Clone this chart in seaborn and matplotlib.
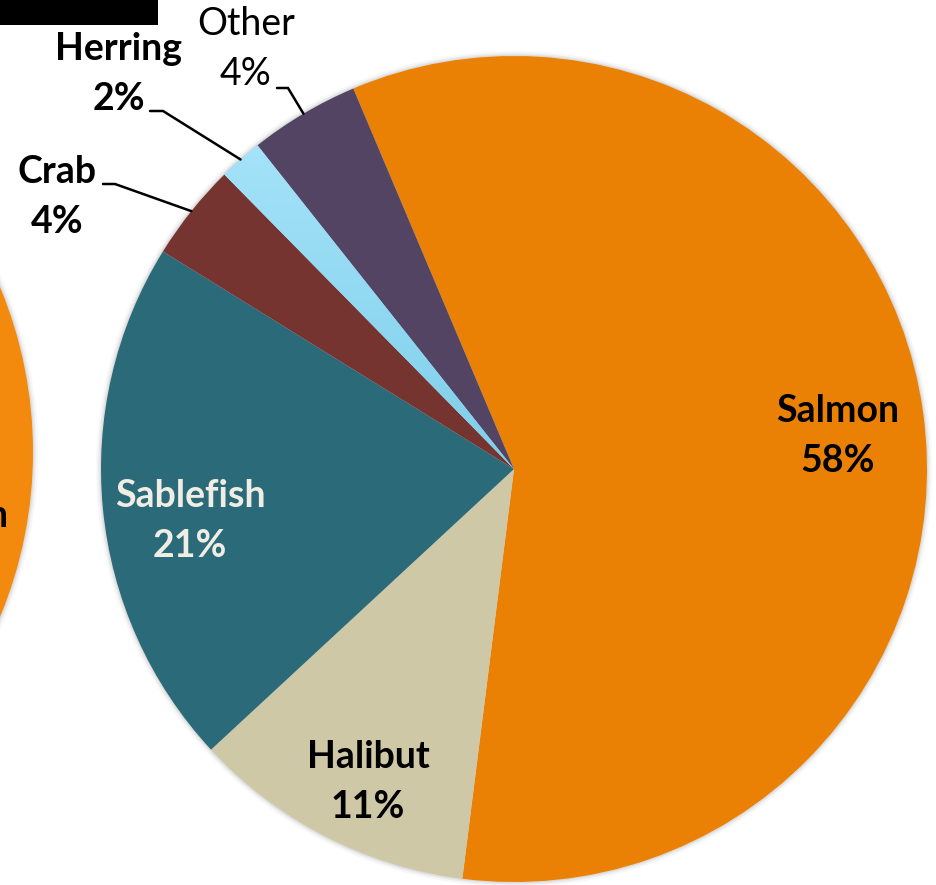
import numpy as np
import matplotlib
matplotlib.use("Agg")
import matplotlib.pyplot as plt
import seaborn as sns
from matplotlib.patches import Circle, Rectangle

# ---- data ----
species = ["Salmon", "Halibut", "Sablefish", "Crab", "Herring", "Other"]
shares = [58.3, 11.1, 20.7, 3.8, 1.7, 4.3]
colors = ["#EB8104", "#CEC8A7", "#2A6A79", "#763431", "#93D9F1", "#534464"]
text_colors = ["#000000", "#000000", "#F0EEE4", "#000000", "#000000", "#000000"]
weights = ["bold", "bold", "bold", "bold", "bold", "normal"]

sns.set_theme(style="white")
plt.rcParams["font.family"] = ["Lato", "DejaVu Sans"]

W, H = 936, 885
CX, CY, R = 514, 469, 413  # pie centre / radius in pixels


def px(x, y):
    return (x - CX) / R, (CY - y) / R


fig = plt.figure(figsize=(W / 100, H / 100), dpi=100)
ax = fig.add_axes([0, 0, 1, 1])
ax.set_aspect("equal")

# soft shadow halo
for r_, a_ in [(1.012, 0.06), (1.007, 0.10), (1.003, 0.15)]:
    ax.add_patch(Circle((0, 0), r_, color="#808080", alpha=a_, lw=0, zorder=0))

wedges, _ = ax.pie(shares, colors=colors, startangle=112.9, counterclock=False,
                   radius=1.0, center=(0, 0),
                   wedgeprops=dict(linewidth=0, zorder=1))

# gradient on the herring wedge
hw = wedges[4]
grad = np.linspace(0, 1, 256).reshape(-1, 1)
from matplotlib.colors import LinearSegmentedColormap
cm = LinearSegmentedColormap.from_list("h", ["#7ECEEA", "#AAE6FB"])
im = ax.imshow(grad, cmap=cm, extent=(-0.8, 0.0, 0.0, 0.9), origin="lower",
               aspect="auto", zorder=2)
im.set_clip_path(hw)

# partial neighbouring pie at the far left
lcx, lcy = px(-396, 452)
for r_, a_ in [(1.012, 0.06), (1.007, 0.10), (1.003, 0.15)]:
    ax.add_patch(Circle((lcx, lcy), 429 / R * r_, color="#808080", alpha=a_, lw=0, zorder=0))
ax.add_patch(Circle((lcx, lcy), 429 / R, color="#F38A0E", lw=0, zorder=1))
tx, ty = px(8, 527)
ax.text(tx, ty, "Salmon", ha="right", va="baseline", fontsize=27,
        fontweight="bold", color="black", zorder=5)

# labels: (centre x, baseline y of first line) in pixels
label_pos = {
    "Salmon": (838, 422),
    "Halibut": (368, 768),
    "Sablefish": (190, 507),
    "Crab": (57, 183),
    "Herring": (119, 60),
    "Other": (246, 35),
}
line_gap = 50

for i, name in enumerate(species):
    x0, y0 = label_pos[name]
    pct = f"{round(shares[i])}%"
    for k, line in enumerate([name, pct]):
        lx, ly = px(x0, y0 + k * line_gap)
        ax.text(lx, ly, line, ha="center", va="baseline", fontsize=27,
                fontweight=weights[i], color=text_colors[i], zorder=5)

# leader lines: start (near text) -> elbow -> wedge edge at mid-angle
leaders = {
    "Crab": ((103, 184), (115, 184)),
    "Herring": ((150, 111), (163, 111)),
    "Other": ((277, 88), (288, 88)),
}
for i, name in enumerate(species):
    if name not in leaders:
        continue
    w = wedges[i]
    mid = np.deg2rad((w.theta1 + w.theta2) / 2)
    ex, ey = np.cos(mid), np.sin(mid)
    (sx, sy), (bx, by) = leaders[name]
    p0 = px(sx, sy)
    p1 = px(bx, by)
    ax.plot([p0[0], p1[0], ex], [p0[1], p1[1], ey], color="black", lw=1.8,
            solid_joinstyle="miter", zorder=4)

# black bar top-left
rx0, ry0 = px(0, 25)
rx1, ry1 = px(158, 0)
ax.add_patch(Rectangle((rx0, ry0), rx1 - rx0, ry1 - ry0, color="black", lw=0, zorder=6))

ax.set_xlim(-CX / R, (W - CX) / R)
ax.set_ylim((CY - H) / R, CY / R)
ax.axis("off")

fig.savefig("out.png", dpi=100, facecolor="white")
